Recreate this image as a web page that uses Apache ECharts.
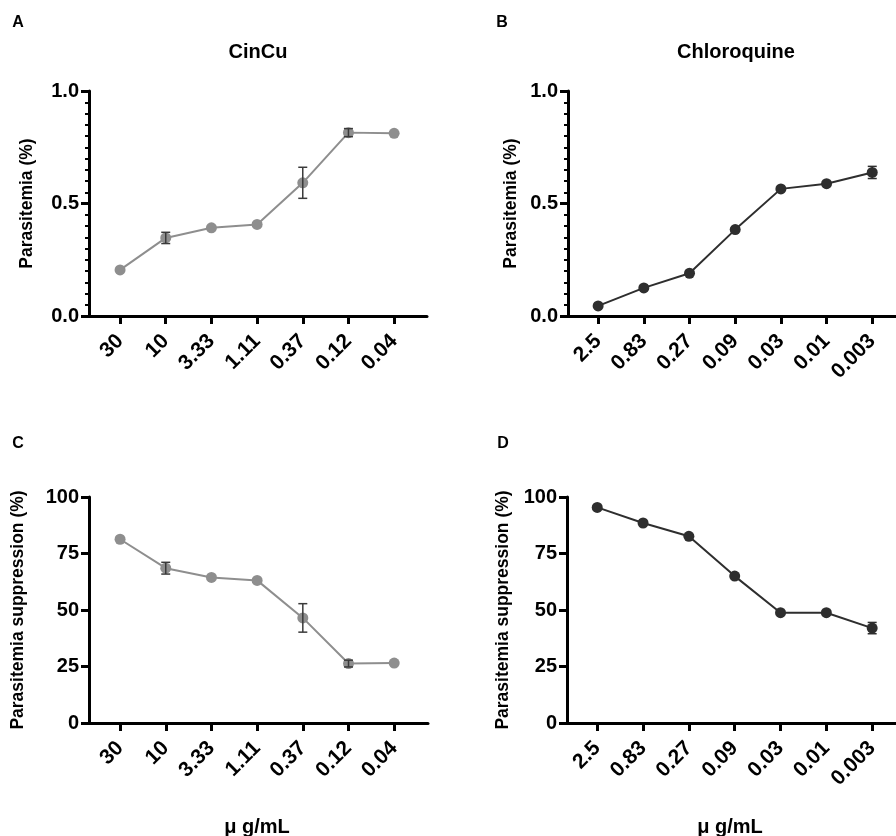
<!DOCTYPE html>
<html>
<head>
<meta charset="utf-8">
<title>CinCu vs Chloroquine</title>
<script src="https://cdn.jsdelivr.net/npm/echarts@6/dist/echarts.min.js"></script>
<style>
html, body { margin: 0; padding: 0; background: #fff; }
#chart { width: 896px; height: 836px; }
</style>
</head>
<body>
<div id="chart"></div>
<script>
// doses (µg/mL), highest first
var cincuDoses = ['30', '10', '3.33', '1.11', '0.37', '0.12', '0.04'];
var chloroDoses = ['2.5', '0.83', '0.27', '0.09', '0.03', '0.01', '0.003'];

// A: parasitemia with CinCu
var cincuParasitemia = [0.205, 0.347, 0.392, 0.407, 0.592, 0.815, 0.812];
var cincuParasitemiaErr = [0, 0.025, 0, 0, 0.069, 0.018, 0];

// B: parasitemia with chloroquine
var chloroParasitemia = [0.045, 0.125, 0.19, 0.384, 0.565, 0.588, 0.638];
var chloroParasitemiaErr = [0, 0, 0, 0, 0, 0, 0.027];

// C: suppression with CinCu
var cincuSuppression = [81.3, 68.5, 64.4, 63.1, 46.5, 26.3, 26.5];
var cincuSuppressionErr = [0, 2.6, 0, 0, 6.3, 1.5, 0];

// D: suppression with chloroquine
var chloroSuppression = [95.4, 88.5, 82.6, 65.0, 48.8, 48.8, 42.0];
var chloroSuppressionErr = [0, 0, 0, 0, 0, 0, 2.5];

var parasitemiaTicks = [0, 0.5, 1.0];
var suppressionTicks = [0, 25, 50, 75, 100];

var FONT = 'Liberation Sans, Arial, sans-serif';
var GREY = '#8e8e8e';
var DARK = '#2e2e2e';
var doseIdx = [0, 1, 2, 3, 4, 5, 6];

function doseAxis(grid, labels, min, max) {
  return {
    type: 'value',
    gridIndex: grid,
    min: min,
    max: max,
    splitLine: { show: false },
    axisLine: { show: true, onZero: false, lineStyle: { color: '#000', width: 3 } },
    axisTick: { show: true, length: 8, customValues: doseIdx, lineStyle: { color: '#000', width: 3 } },
    axisLabel: {
      customValues: doseIdx,
      rotate: 45,
      margin: 22,
      color: '#000',
      fontFamily: FONT,
      fontWeight: 'bold',
      fontSize: 21,
      formatter: function (v) { return labels[Math.round(v)]; }
    }
  };
}

function valueAxis(grid, name, nameGap, ticks, minor, digits) {
  var step = ticks[1] - ticks[0];
  return {
    type: 'value',
    gridIndex: grid,
    min: ticks[0],
    max: ticks[ticks.length - 1],
    interval: step,
    name: name,
    nameLocation: 'middle',
    nameGap: nameGap,
    nameTextStyle: { color: '#000', fontFamily: FONT, fontWeight: 'bold', fontSize: 17.5 },
    splitLine: { show: false },
    axisLine: { show: true, onZero: false, lineStyle: { color: '#000', width: 3 } },
    axisTick: { show: true, length: 8, lineStyle: { color: '#000', width: 3 } },
    minorTick: { show: minor, splitNumber: 10, length: 4, lineStyle: { color: '#000', width: 2 } },
    minorSplitLine: { show: false },
    axisLabel: {
      margin: 10,
      color: '#000',
      fontFamily: FONT,
      fontWeight: 'bold',
      fontSize: 20,
      formatter: function (v) { return v.toFixed(digits); }
    }
  };
}

function lineSeries(idx, values, color) {
  return {
    type: 'line',
    xAxisIndex: idx,
    yAxisIndex: idx,
    data: values.map(function (v, i) { return [i, v]; }),
    symbol: 'circle',
    symbolSize: 11,
    lineStyle: { color: color, width: 2 },
    itemStyle: { color: color },
    z: 2,
    animation: false
  };
}

// error bars drawn through the axes
function errorBars(idx, values, errs, color) {
  var data = [];
  for (var i = 0; i < values.length; i++) {
    if (errs[i] > 0) data.push([i, values[i] - errs[i], values[i] + errs[i]]);
  }
  return {
    type: 'custom',
    xAxisIndex: idx,
    yAxisIndex: idx,
    z: 3,
    animation: false,
    encode: { x: 0, y: [1, 2] },
    data: data,
    renderItem: function (params, api) {
      var lo = api.coord([api.value(0), api.value(1)]);
      var hi = api.coord([api.value(0), api.value(2)]);
      var w = 4.5;
      var st = { stroke: color, lineWidth: 1.5 };
      return {
        type: 'group',
        children: [
          { type: 'line', shape: { x1: lo[0], y1: lo[1], x2: hi[0], y2: hi[1] }, style: st },
          { type: 'line', shape: { x1: lo[0] - w, y1: lo[1], x2: lo[0] + w, y2: lo[1] }, style: st },
          { type: 'line', shape: { x1: hi[0] - w, y1: hi[1], x2: hi[0] + w, y2: hi[1] }, style: st }
        ]
      };
    }
  };
}

function label(text, x, y, size) {
  return {
    type: 'text',
    x: x,
    y: y,
    style: {
      text: text,
      fill: '#000',
      font: 'bold ' + size + 'px ' + FONT,
      textAlign: 'center',
      textVerticalAlign: 'middle'
    }
  };
}

var chart = echarts.init(document.getElementById('chart'));
var option = {
  backgroundColor: '#fff',
  animation: false,
  grid: [
    { left: 89, top: 91, width: 338, height: 225 },
    { left: 568, top: 91, right: 0, height: 225 },
    { left: 89, top: 497, width: 339, height: 226 },
    { left: 567, top: 497, right: 0, height: 226 }
  ],
  xAxis: [
    doseAxis(0, cincuDoses, -0.68, 6.72),
    doseAxis(1, chloroDoses, -0.66, 6.52),
    doseAxis(2, cincuDoses, -0.68, 6.74),
    doseAxis(3, chloroDoses, -0.66, 6.52)
  ],
  yAxis: [
    valueAxis(0, 'Parasitemia (%)', 53, parasitemiaTicks, true, 1),
    valueAxis(1, 'Parasitemia (%)', 48, parasitemiaTicks, true, 1),
    valueAxis(2, 'Parasitemia suppression (%)', 62, suppressionTicks, false, 0),
    valueAxis(3, 'Parasitemia suppression (%)', 55, suppressionTicks, false, 0)
  ],
  series: [
    lineSeries(0, cincuParasitemia, GREY),
    errorBars(0, cincuParasitemia, cincuParasitemiaErr, '#3a3a3a'),
    lineSeries(1, chloroParasitemia, DARK),
    errorBars(1, chloroParasitemia, chloroParasitemiaErr, DARK),
    lineSeries(2, cincuSuppression, GREY),
    errorBars(2, cincuSuppression, cincuSuppressionErr, '#3a3a3a'),
    lineSeries(3, chloroSuppression, DARK),
    errorBars(3, chloroSuppression, chloroSuppressionErr, DARK)
  ],
  graphic: [
    label('A', 18, 23, 16),
    label('B', 502, 23, 16),
    label('C', 18, 444, 16),
    label('D', 503, 444, 16),
    label('CinCu', 258, 52, 20),
    label('Chloroquine', 736, 52, 20),
    label('\u03bc g/mL', 257, 827, 20),
    label('\u03bc g/mL', 730, 827, 20)
  ]
};
chart.setOption(option);
</script>
</body>
</html>
